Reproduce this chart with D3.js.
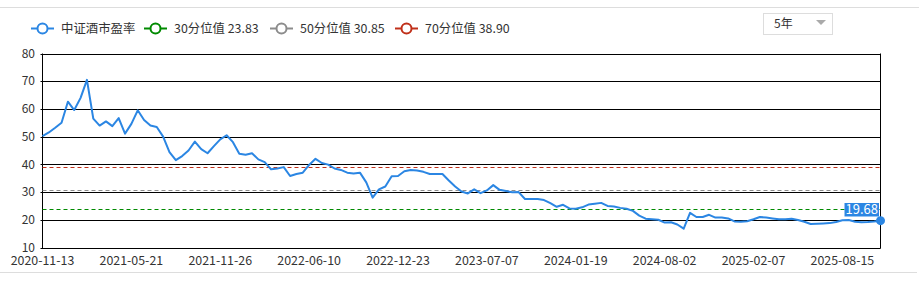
<!DOCTYPE html>
<html>
<head>
<meta charset="utf-8">
<script src="https://cdn.jsdelivr.net/npm/d3@7"></script>
<style>
  body { margin: 0; background: #fff; }
  text { font-family: "Noto Sans CJK SC", "Noto Sans", sans-serif; }
</style>
</head>
<body>
<svg width="919" height="283"></svg>
<script>
// 中证酒市盈率, one value every two weeks
const peValues = [
  50.2, 51.5, 53.2, 55.0, 62.6, 59.6, 64.0, 70.5, 56.5, 54.0,
  55.5, 53.8, 56.7, 51.1, 54.6, 59.5, 56.0, 54.0, 53.5, 50.0,
  44.4, 41.5, 43.0, 45.0, 48.2, 45.5, 44.0, 46.6, 49.0, 50.5,
  48.0, 43.8, 43.5, 44.0, 41.8, 40.8, 38.2, 38.5, 39.0, 35.8,
  36.5, 37.0, 39.8, 42.0, 40.5, 39.9, 38.5, 38.0, 37.0, 36.7,
  37.0, 33.5, 28.0, 31.0, 32.0, 35.7, 35.8, 37.5, 38.0, 37.8,
  37.3, 36.5, 36.5, 36.5, 34.2, 32.0, 30.2, 29.5, 31.0, 29.6,
  30.6, 32.5, 30.8, 30.4, 29.9, 30.0, 27.5, 27.5, 27.5, 27.1,
  26.0, 24.7, 25.4, 24.1, 24.0, 24.5, 25.5, 25.8, 26.1, 25.0,
  24.8, 24.3, 24.0, 23.2, 21.5, 20.4, 20.2, 20.0, 19.0, 19.1,
  18.3, 16.8, 22.5, 21.0, 21.0, 21.8, 20.8, 20.8, 20.5, 19.4,
  19.3, 19.5, 20.2, 21.0, 20.8, 20.5, 20.2, 20.2, 20.4, 19.9,
  19.3, 18.5, 18.6, 18.7, 18.8, 19.2, 19.8, 19.9, 19.3, 19.1,
  19.2, 19.4, 19.68
];
const xTickLabels = ["2020-11-13", "2021-05-21", "2021-11-26", "2022-06-10", "2022-12-23",
  "2023-07-07", "2024-01-19", "2024-08-02", "2025-02-07", "2025-08-15"];
const labelEvery = 14;
const yTicks = [10, 20, 30, 40, 50, 60, 70, 80];
const pctNames = ["30分位值", "50分位值", "70分位值"];
const pctValues = [23.83, 30.85, 38.90];
const seriesName = "中证酒市盈率";
const periodLabel = "5年";

const blue = "#2b86e3";
const pctColors = ["#008a00", "#8c8c8c", "#c0301a"];

const svg = d3.select("svg"),
    width = +svg.attr("width"),
    height = +svg.attr("height");

const plotLeft = 42.5, plotRight = 880.5, plotTop = 53.5, plotBottom = 247.5;

const x = d3.scaleLinear().domain([0, peValues.length - 1]).range([plotLeft, plotRight]);
const y = d3.scaleLinear().domain([10, 80]).range([plotBottom, plotTop]);

// frame lines of the widget
svg.append("line").attr("x1", 0).attr("x2", width).attr("y1", 7.5).attr("y2", 7.5)
    .attr("stroke", "#ddd");
svg.append("line").attr("x1", 0).attr("x2", 917).attr("y1", 272.5).attr("y2", 272.5)
    .attr("stroke", "#ddd");

// grid lines
svg.append("g")
  .selectAll("line")
  .data(yTicks)
  .enter().append("line")
    .attr("x1", plotLeft - 2).attr("x2", plotRight)
    .attr("y1", d => Math.round(y(d)) + 0.5)
    .attr("y2", d => Math.round(y(d)) + 0.5)
    .attr("stroke", "#000");

svg.append("line").attr("x1", plotLeft).attr("x2", plotLeft).attr("y1", plotTop).attr("y2", plotBottom + 1)
    .attr("stroke", "#000");
svg.append("line").attr("x1", plotRight).attr("x2", plotRight).attr("y1", plotTop).attr("y2", plotBottom + 1)
    .attr("stroke", "#000");

// y labels
svg.append("g")
  .selectAll("text")
  .data(yTicks)
  .enter().append("text")
    .attr("x", 35)
    .attr("y", d => y(d))
    .attr("dy", "0.35em")
    .attr("text-anchor", "end")
    .attr("font-size", "12px")
    .attr("fill", "#333")
    .text(d => d);

// x labels
svg.append("g")
  .selectAll("text")
  .data(xTickLabels)
  .enter().append("text")
    .attr("x", (d, i) => x(i * labelEvery))
    .attr("y", 261)
    .attr("dy", "0.35em")
    .attr("text-anchor", "middle")
    .attr("font-size", "12.4px")
    .attr("fill", "#333")
    .text(d => d);

// percentile lines
svg.append("g")
  .selectAll("line")
  .data(pctValues)
  .enter().append("line")
    .attr("x1", plotLeft).attr("x2", plotRight)
    .attr("y1", d => Math.round(y(d)) + 0.5)
    .attr("y2", d => Math.round(y(d)) + 0.5)
    .attr("stroke", (d, i) => pctColors[i])
    .attr("stroke-dasharray", "4,3");

// series line
const line = d3.line()
    .x((d, i) => x(i))
    .y(d => y(d));

svg.append("path")
    .datum(peValues)
    .attr("fill", "none")
    .attr("stroke", blue)
    .attr("stroke-width", 2)
    .attr("stroke-linejoin", "round")
    .attr("d", line);

// last point and its label
const lastI = peValues.length - 1, lastV = peValues[lastI];
svg.append("circle")
    .attr("cx", x(lastI)).attr("cy", y(lastV)).attr("r", 4.5)
    .attr("fill", blue);

const lastLabel = svg.append("g");
const lt = lastLabel.append("text")
    .attr("x", 878)
    .attr("y", 209.5)
    .attr("dy", "0.35em")
    .attr("text-anchor", "end")
    .attr("font-size", "13px")
    .attr("fill", "#fff")
    .text(lastV.toFixed(2));
const bb = lt.node().getBBox();
lastLabel.insert("rect", "text")
    .attr("x", bb.x - 1).attr("y", 203)
    .attr("width", bb.width + 2).attr("height", 13.5)
    .attr("fill", blue);

// legend
const legendItems = [
  {name: seriesName, color: blue, x: 31},
  {name: pctNames[0] + " " + pctValues[0].toFixed(2), color: pctColors[0], x: 144},
  {name: pctNames[1] + " " + pctValues[1].toFixed(2), color: pctColors[1], x: 270},
  {name: pctNames[2] + " " + pctValues[2].toFixed(2), color: pctColors[2], x: 395}
];

const legend = svg.append("g")
  .selectAll("g")
  .data(legendItems)
  .enter().append("g")
    .attr("transform", d => `translate(${d.x},28.5)`);

legend.append("line")
    .attr("x1", 0).attr("x2", 23)
    .attr("stroke", d => d.color)
    .attr("stroke-width", 2);
legend.append("circle")
    .attr("cx", 11.5).attr("r", 5)
    .attr("fill", "#fff")
    .attr("stroke", d => d.color)
    .attr("stroke-width", 2);
legend.append("text")
    .attr("x", 30)
    .attr("dy", "0.35em")
    .attr("font-size", "12.4px")
    .attr("fill", "#333")
    .text(d => d.name);

// period selector
svg.append("rect")
    .attr("x", 763.5).attr("y", 13.5)
    .attr("width", 69).attr("height", 21)
    .attr("fill", "#fff")
    .attr("stroke", "#ddd");
svg.append("text")
    .attr("x", 774)
    .attr("y", 24)
    .attr("dy", "0.35em")
    .attr("font-size", "12px")
    .attr("fill", "#333")
    .text(periodLabel);
svg.append("path")
    .attr("d", "M816,20L826,20L821,25Z")
    .attr("fill", "#aaa");
</script>
</body>
</html>
